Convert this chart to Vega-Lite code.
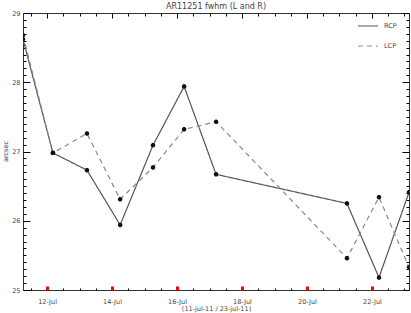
{
  "$schema": "https://vega.github.io/schema/vega-lite/v6.json",
  "width": 386,
  "height": 277,
  "autosize": {"type": "none"},
  "padding": {"left": 23, "top": 13, "right": 2, "bottom": 23},
  "background": "white",
  "title": {"text": "AR11251 fwhm (L and R)", "fontSize": 8, "font": "DejaVu Sans", "fontWeight": "normal", "color": "#444", "offset": -1, "anchor": "middle"},
  "config": {
    "view": {"stroke": "#333", "strokeWidth": 1},
    "axis": {"ticks": true, "tickOpacity": 1, "zindex": 1, "domain": false, "grid": false, "tickColor": "#000", "tickWidth": 1, "labelColor": "#444", "labelFont": "DejaVu Sans", "labelFontSize": 6.5, "titleFont": "DejaVu Sans", "titleFontSize": 6.5, "titleFontWeight": "normal", "titleColor": "#444"}
  },
  "data": {"values": [
    {"t": "2011-07-11T06:15", "v": 28.62, "pol": "RCP"},
    {"t": "2011-07-12T04:20", "v": 26.98, "pol": "RCP"},
    {"t": "2011-07-13T05:30", "v": 26.73, "pol": "RCP"},
    {"t": "2011-07-14T06:00", "v": 25.94, "pol": "RCP"},
    {"t": "2011-07-15T06:15", "v": 27.09, "pol": "RCP"},
    {"t": "2011-07-16T05:15", "v": 27.94, "pol": "RCP"},
    {"t": "2011-07-17T04:50", "v": 26.67, "pol": "RCP"},
    {"t": "2011-07-21T05:30", "v": 26.25, "pol": "RCP"},
    {"t": "2011-07-22T05:10", "v": 25.18, "pol": "RCP"},
    {"t": "2011-07-23T03:20", "v": 26.41, "pol": "RCP"},
    {"t": "2011-07-11T06:15", "v": 28.68, "pol": "LCP"},
    {"t": "2011-07-12T04:20", "v": 26.98, "pol": "LCP"},
    {"t": "2011-07-13T05:30", "v": 27.26, "pol": "LCP"},
    {"t": "2011-07-14T06:00", "v": 26.31, "pol": "LCP"},
    {"t": "2011-07-15T06:15", "v": 26.77, "pol": "LCP"},
    {"t": "2011-07-16T05:15", "v": 27.32, "pol": "LCP"},
    {"t": "2011-07-17T04:50", "v": 27.43, "pol": "LCP"},
    {"t": "2011-07-21T05:30", "v": 25.46, "pol": "LCP"},
    {"t": "2011-07-22T05:10", "v": 26.34, "pol": "LCP"},
    {"t": "2011-07-23T03:20", "v": 25.33, "pol": "LCP"}
  ]},
  "resolve": {"scale": {"x": "shared", "y": "shared"}, "axis": {"x": "independent", "y": "independent"}},
  "layer": [
    {
      "mark": {"type": "line", "strokeWidth": 1.2, "clip": true},
      "encoding": {
        "x": {"field": "t", "type": "temporal", "scale": {"nice": false},
          "axis": {"orient": "bottom", "offset": -4, "ticks": true, "values": [{"year": 2011, "month": 7, "date": 12}, {"year": 2011, "month": 7, "date": 14}, {"year": 2011, "month": 7, "date": 16}, {"year": 2011, "month": 7, "date": 18}, {"year": 2011, "month": 7, "date": 20}, {"year": 2011, "month": 7, "date": 22}],
            "format": "%d-%b", "tickSize": 4, "tickColor": "red", "tickWidth": 3, "labelPadding": 8, "title": "(11-jul-11 / 23-jul-11)", "titleX": 193, "titleY": 22, "titleBaseline": "middle", "titleAlign": "center"}},
        "y": {"field": "v", "type": "quantitative", "scale": {"domain": [25, 29], "nice": false, "zero": false},
          "axis": {"orient": "left", "offset": -7, "ticks": true, "values": [25, 26, 27, 28, 29], "format": "d", "tickSize": 7, "labelPadding": 3, "title": "arcsec", "titleX": -25, "titleY": 138, "titleAngle": 270, "titleAlign": "center", "titleBaseline": "middle"}},
        "color": {"field": "pol", "type": "nominal", "scale": {"domain": ["RCP", "LCP"], "range": ["#555555", "#8a8a8a"]},
          "legend": {"orient": "none", "legendX": 334, "legendY": 2, "title": null, "symbolType": "stroke", "symbolSize": 400, "symbolStrokeWidth": 1.2, "labelFontSize": 6.5, "labelFont": "DejaVu Sans", "labelColor": "#444", "rowPadding": 5, "labelOffset": 5}},
        "strokeDash": {"field": "pol", "type": "nominal", "scale": {"domain": ["RCP", "LCP"], "range": [[1, 0], [5, 4]]},
          "legend": {"orient": "none", "legendX": 334, "legendY": 2, "title": null, "symbolType": "stroke", "symbolSize": 400, "symbolStrokeWidth": 1.2, "labelFontSize": 6.5, "labelFont": "DejaVu Sans", "labelColor": "#444", "rowPadding": 5, "labelOffset": 5}}
      }
    },
    {
      "mark": {"type": "point", "shape": "M-1,0L1,0M0,-1L0,1M-0.7,-0.7L0.7,0.7M-0.7,0.7L0.7,-0.7", "filled": false, "stroke": "#111", "strokeWidth": 1.5, "size": 20, "opacity": 1, "clip": true},
      "encoding": {
        "x": {"field": "t", "type": "temporal",
          "axis": {"orient": "top", "offset": -5, "ticks": true, "values": [{"year": 2011, "month": 7, "date": 12}, {"year": 2011, "month": 7, "date": 14}, {"year": 2011, "month": 7, "date": 16}, {"year": 2011, "month": 7, "date": 18}, {"year": 2011, "month": 7, "date": 20}, {"year": 2011, "month": 7, "date": 22}],
            "labels": false, "tickSize": 5, "title": null}},
        "y": {"field": "v", "type": "quantitative",
          "axis": {"orient": "right", "offset": -7, "ticks": true, "values": [25, 26, 27, 28, 29], "labels": false, "tickSize": 7, "title": null}}
      }
    },
    {
      "mark": {"type": "point", "opacity": 0},
      "encoding": {
        "x": {"field": "t", "type": "temporal",
          "axis": {"orient": "bottom", "offset": -2, "ticks": true, "values": [{"year": 2011, "month": 7, "date": 11, "hours": 12}, {"year": 2011, "month": 7, "date": 12, "hours": 12}, {"year": 2011, "month": 7, "date": 13}, {"year": 2011, "month": 7, "date": 13, "hours": 12}, {"year": 2011, "month": 7, "date": 14, "hours": 12}, {"year": 2011, "month": 7, "date": 15}, {"year": 2011, "month": 7, "date": 15, "hours": 12}, {"year": 2011, "month": 7, "date": 16, "hours": 12}, {"year": 2011, "month": 7, "date": 17}, {"year": 2011, "month": 7, "date": 17, "hours": 12}, {"year": 2011, "month": 7, "date": 18, "hours": 12}, {"year": 2011, "month": 7, "date": 19}, {"year": 2011, "month": 7, "date": 19, "hours": 12}, {"year": 2011, "month": 7, "date": 20, "hours": 12}, {"year": 2011, "month": 7, "date": 21}, {"year": 2011, "month": 7, "date": 21, "hours": 12}, {"year": 2011, "month": 7, "date": 22, "hours": 12}, {"year": 2011, "month": 7, "date": 23}],
            "labels": false, "tickSize": 2, "title": null}},
        "y": {"field": "v", "type": "quantitative",
          "axis": {"orient": "left", "offset": -3, "ticks": true, "values": [25.1, 25.2, 25.3, 25.4, 25.5, 25.6, 25.7, 25.8, 25.9, 26.1, 26.2, 26.3, 26.4, 26.5, 26.6, 26.7, 26.8, 26.9, 27.1, 27.2, 27.3, 27.4, 27.5, 27.6, 27.7, 27.8, 27.9, 28.1, 28.2, 28.3, 28.4, 28.5, 28.6, 28.7, 28.8, 28.9], "labels": false, "tickSize": 3, "title": null}}
      }
    },
    {
      "mark": {"type": "point", "opacity": 0},
      "encoding": {
        "x": {"field": "t", "type": "temporal",
          "axis": {"orient": "top", "offset": -3, "ticks": true, "values": [{"year": 2011, "month": 7, "date": 11, "hours": 12}, {"year": 2011, "month": 7, "date": 12, "hours": 12}, {"year": 2011, "month": 7, "date": 13}, {"year": 2011, "month": 7, "date": 13, "hours": 12}, {"year": 2011, "month": 7, "date": 14, "hours": 12}, {"year": 2011, "month": 7, "date": 15}, {"year": 2011, "month": 7, "date": 15, "hours": 12}, {"year": 2011, "month": 7, "date": 16, "hours": 12}, {"year": 2011, "month": 7, "date": 17}, {"year": 2011, "month": 7, "date": 17, "hours": 12}, {"year": 2011, "month": 7, "date": 18, "hours": 12}, {"year": 2011, "month": 7, "date": 19}, {"year": 2011, "month": 7, "date": 19, "hours": 12}, {"year": 2011, "month": 7, "date": 20, "hours": 12}, {"year": 2011, "month": 7, "date": 21}, {"year": 2011, "month": 7, "date": 21, "hours": 12}, {"year": 2011, "month": 7, "date": 22, "hours": 12}, {"year": 2011, "month": 7, "date": 23}],
            "labels": false, "tickSize": 3, "title": null}},
        "y": {"field": "v", "type": "quantitative",
          "axis": {"orient": "right", "offset": -3, "ticks": true, "values": [25.1, 25.2, 25.3, 25.4, 25.5, 25.6, 25.7, 25.8, 25.9, 26.1, 26.2, 26.3, 26.4, 26.5, 26.6, 26.7, 26.8, 26.9, 27.1, 27.2, 27.3, 27.4, 27.5, 27.6, 27.7, 27.8, 27.9, 28.1, 28.2, 28.3, 28.4, 28.5, 28.6, 28.7, 28.8, 28.9], "labels": false, "tickSize": 3, "title": null}}
      }
    }
  ]
}
